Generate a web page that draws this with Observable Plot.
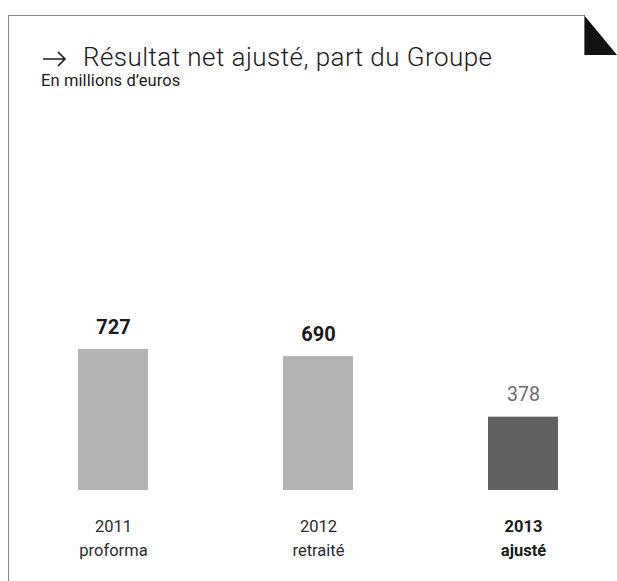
<!DOCTYPE html>
<html><head><meta charset="utf-8">
<script src="https://cdn.jsdelivr.net/npm/d3@7"></script>
<script src="https://cdn.jsdelivr.net/npm/@observablehq/plot@0.6"></script>
<style>
html,body{margin:0;padding:0;background:#fff;}
#wrap{position:relative;width:617px;height:581px;overflow:hidden;font-family:Roboto,"Noto Sans",sans-serif;}
#frame{position:absolute;left:8px;top:15px;width:576px;height:580px;border-top:1.5px solid #8a8a8a;border-left:1.5px solid #8a8a8a;}
#corner{position:absolute;left:584px;top:15px;}
#arrow{position:absolute;left:42px;top:50px;}
#title{position:absolute;left:83px;top:44px;font-size:26px;font-weight:300;color:#1a1a1a;letter-spacing:0.45px;white-space:nowrap;line-height:1;}
#subtitle{position:absolute;left:41px;top:73px;font-size:16.5px;font-weight:400;color:#1a1a1a;letter-spacing:0.1px;white-space:nowrap;line-height:1;}
#chart{position:absolute;left:0;top:100px;}
</style></head>
<body>
<div id="wrap">
  <div id="frame"></div>
  <svg id="corner" width="33" height="42"><polygon points="0,0 33,40 0,40" fill="#111"/><line x1="0" y1="0.5" x2="0" y2="40" stroke="#8a8a8a" stroke-width="1.5"/></svg>
  <svg id="arrow" width="26" height="18"><path d="M1,9 H23 M16,2 L23,9 L16,16" fill="none" stroke="#1a1a1a" stroke-width="1.6"/></svg>
  <div id="title">Résultat net ajusté, part du Groupe</div>
  <div id="subtitle">En millions d’euros</div>
  <div id="chart"></div>
</div>
<script>
const categories = ["2011", "2012", "2013"];
const subLabels = ["proforma", "retraité", "ajusté"];
const values = [727, 690, 378];
const highlighted = [false, false, true];

const data = categories.map((c, i) => ({cat: c, sub: subLabels[i], value: values[i], hi: highlighted[i]}));
const normal = data.filter(d => !d.hi);
const hi = data.filter(d => d.hi);

const chart = Plot.plot({
  width: 617,
  height: 470,
  marginTop: 196,
  marginBottom: 80,
  marginLeft: 0,
  marginRight: 0,
  style: {fontFamily: "Roboto, 'Noto Sans', sans-serif", background: "transparent"},
  x: {domain: categories, range: [9.75, 626.25], paddingInner: 0.657, paddingOuter: 0.3285, axis: null},
  y: {domain: [0, 1000], axis: null},
  marks: [
    Plot.barY(normal, {x: "cat", y: "value", fill: "#b3b3b3"}),
    Plot.barY(hi, {x: "cat", y: "value", fill: "#616161"}),
    Plot.text(normal, {x: "cat", y: "value", text: d => String(d.value), dy: -22, fontSize: 20, fontWeight: 700, fill: "#1a1a1a"}),
    Plot.text(hi, {x: "cat", y: "value", text: d => String(d.value), dy: -22, fontSize: 19.5, fontWeight: 400, fill: "#6b6b6b", letterSpacing: 0.3}),
    Plot.text(normal, {x: "cat", frameAnchor: "bottom", text: d => d.cat + "\n" + d.sub, lineAnchor: "top", lineHeight: 1.47, dy: 24, fontSize: 16.5, fontWeight: 400, fill: "#2a2a2a", letterSpacing: -0.6}),
    Plot.text(hi, {x: "cat", frameAnchor: "bottom", text: d => d.cat + "\n" + d.sub, lineAnchor: "top", lineHeight: 1.47, dy: 24, fontSize: 16.5, fontWeight: 700, fill: "#1a1a1a", letterSpacing: 0})
  ]
});
document.getElementById("chart").appendChild(chart);
</script>
</body></html>
